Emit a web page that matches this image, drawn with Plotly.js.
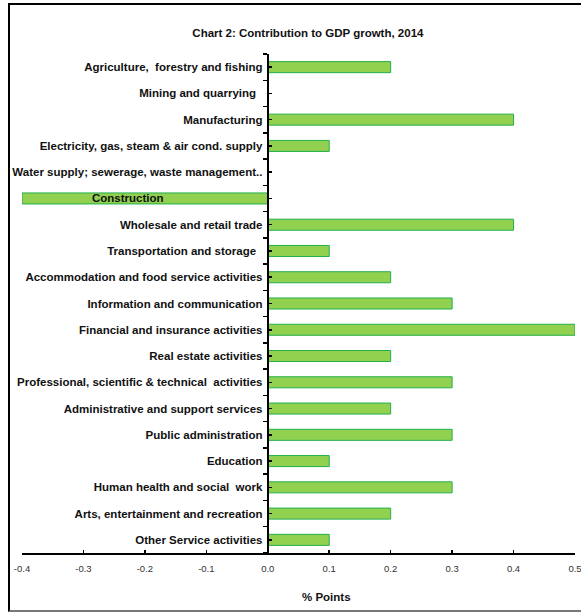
<!DOCTYPE html>
<html>
<head>
<meta charset="utf-8">
<script src="https://cdn.plot.ly/plotly-3.0.1.min.js"></script>
<style>
  html, body { margin: 0; padding: 0; background: #fff; overflow: hidden; }
  #wrap { position: relative; width: 581px; height: 614px; }
  #frame { position: absolute; left: 8px; top: 3px; width: 620px; height: 605px;
           border: 2.5px solid #000; border-bottom-color: #777; box-sizing: content-box; pointer-events: none; }
  #chart { position: absolute; left: 0; top: 0; width: 581px; height: 614px; }
</style>
</head>
<body>
<div id="wrap">
  <div id="chart"></div>
  <div id="frame"></div>
</div>
<script>
// Sector contributions to GDP growth in 2014 (percentage points)
const sectors = [
  "Agriculture,  forestry and fishing",
  "Mining and quarrying  ",
  "Manufacturing",
  "Electricity, gas, steam & air cond. supply",
  "Water supply; sewerage, waste management..",
  "Construction",
  "Wholesale and retail trade",
  "Transportation and storage  ",
  "Accommodation and food service activities",
  "Information and communication",
  "Financial and insurance activities",
  "Real estate activities",
  "Professional, scientific & technical  activities",
  "Administrative and support services",
  "Public administration",
  "Education",
  "Human health and social  work",
  "Arts, entertainment and recreation",
  "Other Service activities"
];
const contributions = [0.2, 0, 0.4, 0.1, 0, -0.4, 0.4, 0.1, 0.2, 0.3, 0.5, 0.2, 0.3, 0.2, 0.3, 0.1, 0.3, 0.2, 0.1];
const xTickValues = [-0.4, -0.3, -0.2, -0.1, 0.0, 0.1, 0.2, 0.3, 0.4, 0.5];
const chartTitle = "Chart 2: Contribution to GDP growth, 2014";
const xAxisLabel = "% Points";
// The Construction label sits over its own (negative) bar instead of beside the axis
const overBarLabel = "Construction";

const fontFamily = "'Liberation Sans', Arial, sans-serif";
const labelFont = { family: fontFamily, size: 11.5, color: "#111" };

const tickText = sectors.map(s => s === overBarLabel ? "" : "<b>" + s + "</b>");
const categoryIndex = sectors.map((_, i) => i);
const xMin = -0.4, xMax = 0.5;
const zeroFrac = (0 - xMin) / (xMax - xMin);

const bars = {
  type: "bar",
  orientation: "h",
  y: sectors,
  x: contributions,
  marker: { color: "#92D050", line: { color: "#22B04B", width: 1 } },
  hoverinfo: "x+y"
};

// invisible companion trace that carries the category-centre tick axis
const centreMarks = {
  type: "scatter", mode: "markers",
  x: contributions, y: categoryIndex, yaxis: "y2",
  marker: { opacity: 0, size: 1 },
  hoverinfo: "skip"
};

const layout = {
  width: 581, height: 614,
  margin: { l: 22, r: 6, t: 54, b: 61 },
  paper_bgcolor: "#fff", plot_bgcolor: "rgba(0,0,0,0)",
  showlegend: false,
  bargap: 0.58,
  title: {
    text: "<b>" + chartTitle + "</b>",
    font: { family: fontFamily, size: 11.5, color: "#111" },
    xref: "paper", x: 0.517, xanchor: "center",
    yref: "container", y: 1 - 33 / 614, yanchor: "middle"
  },
  xaxis: {
    range: [xMin, xMax],
    tickvals: xTickValues,
    ticktext: xTickValues.map(v => v.toFixed(1)),
    ticks: "inside", ticklen: 3, tickwidth: 1.5, tickcolor: "#000",
    showline: true, linecolor: "#000", linewidth: 2,
    showgrid: false, zeroline: false,
    tickfont: { family: fontFamily, size: 9.5, color: "#333" },
    ticklabelstandoff: 6,
    ticklabeloverflow: "allow",
    fixedrange: true
  },
  yaxis: {
    type: "category",
    categoryorder: "array", categoryarray: sectors,
    range: [sectors.length - 0.5, -0.5],
    anchor: "free", position: zeroFrac,
    tickvals: sectors, ticktext: tickText,
    tickson: "boundaries",
    ticks: "outside", ticklen: 4, tickwidth: 1.5, tickcolor: "#000",
    showline: true, linecolor: "#000", linewidth: 2,
    showgrid: false, zeroline: false,
    tickfont: labelFont,
    ticklabelstandoff: 2,
    ticklabeloverflow: "allow",
    automargin: false,
    fixedrange: true
  },
  // small inward marks at each category centre on the value axis
  yaxis2: {
    overlaying: "y",
    anchor: "free", position: zeroFrac,
    range: [sectors.length - 0.5, -0.5],
    tick0: 0, dtick: 1,
    ticks: "inside", ticklen: 3, tickwidth: 1.5, tickcolor: "#000",
    showticklabels: false, showline: false, showgrid: false, zeroline: false,
    fixedrange: true
  },
  annotations: [
    {
      x: contributions[sectors.indexOf(overBarLabel)] / 2 - 0.027, xref: "x",
      y: overBarLabel, yref: "y",
      text: "<b>" + overBarLabel + "</b>", showarrow: false,
      font: labelFont, xanchor: "center", yanchor: "middle"
    },
    {
      x: 0.096, xref: "x", y: -0.088, yref: "paper",
      text: "<b>" + xAxisLabel + "</b>", showarrow: false,
      font: labelFont, xanchor: "center", yanchor: "middle"
    }
  ]
};

Plotly.newPlot("chart", [bars, centreMarks], layout, { displayModeBar: false, staticPlot: true });
</script>
</body>
</html>
